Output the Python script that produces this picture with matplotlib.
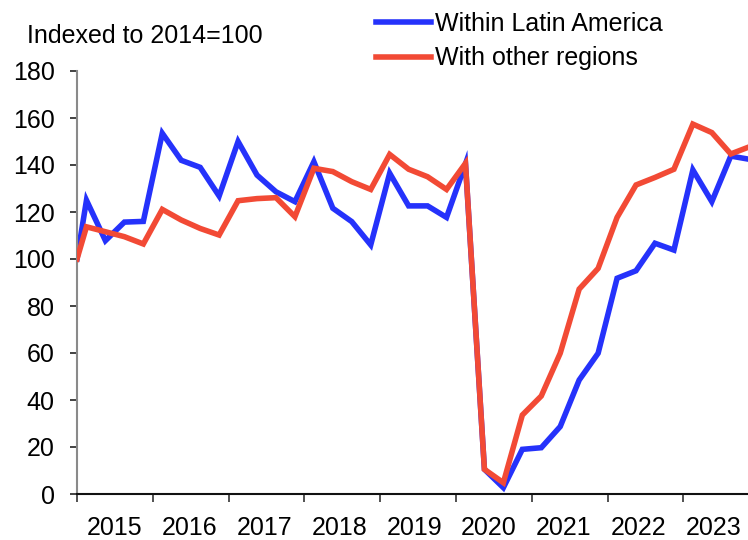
import matplotlib
matplotlib.use("Agg")
import matplotlib.pyplot as plt

plt.rcParams['font.family'] = ['Liberation Sans', 'DejaVu Sans']

# Data (index, 2014=100); first value is the base point, then quarterly 2015Q1..2023Q4
periods = ["base"] + [f"{y}Q{q}" for y in range(2015, 2024) for q in range(1, 5)]
within_latam = [100,
                125, 107.8, 115.7, 116, 153.5, 142, 139, 126.8, 150, 135.7, 128.6, 124.4,
                141.4, 121.6, 115.9, 106, 136.5, 122.6, 122.6, 117.7,
                140.5, 10.5, 2.7, 19, 19.7, 28.7, 48.5, 59.9, 91.8, 95, 106.7, 103.8,
                137.9, 124.4, 143.8, 142.4]
other_regions = [100,
                 113.7, 111.6, 109.5, 106.4, 121.1, 116.6, 113, 110.2, 124.8, 125.7, 126.1, 118,
                 138.6, 137.2, 132.9, 129.6, 144.5, 138.2, 135, 129.6,
                 140.7, 10.5, 4.8, 33.6, 41.7, 59.9, 87.2, 96, 117.7, 131.5, 134.7, 138.2,
                 157.4, 153.8, 144.7, 147.8]
years = list(range(2015, 2024))
yticks = [0, 20, 40, 60, 80, 100, 120, 140, 160, 180]
labels = ["Within Latin America", "With other regions"]

# x positions: base at start of 2015, quarters at mid-quarter
xpos = [2015.0] + [int(p[:4]) + (int(p[-1]) - 1) * 0.25 + 0.125 for p in periods[1:]]

BLUE = '#2532FB'
RED = '#F24A35'
FS = 18

fig = plt.figure(figsize=(7.48, 5.40), dpi=100)
ax = fig.add_axes([77 / 748, 46 / 540, 1 - 77 / 748, (494 - 71) / 540])

ax.plot(xpos, within_latam, color=BLUE, lw=4.0, label=labels[0], solid_joinstyle='miter', zorder=2)
ax.plot(xpos, other_regions, color=RED, lw=4.0, label=labels[1], solid_joinstyle='miter', zorder=3)

ax.set_yticks(yticks)
ax.set_yticklabels([str(v) for v in yticks], fontsize=FS)

ax.set_xticks(years)
ax.set_xticklabels([])
label_pos = [2015 + 0.497 + 0.988 * (y - 2015) for y in years]
ax.set_xticks(label_pos, minor=True)
ax.set_xticklabels([str(y) for y in years], minor=True, fontsize=FS)
ax.tick_params(axis='x', which='major', length=5.5, width=1.2, color='#333333', direction='out')
ax.tick_params(axis='x', which='minor', length=0, pad=16)
ax.tick_params(axis='y', length=5, width=1.2, color='#222222', pad=11)

ax.set_ylim(0, 180)
ax.set_xlim(2015.0, 2015.0 + 671 / 75.8)

for s in ['top', 'right']:
    ax.spines[s].set_visible(False)
ax.spines['left'].set_color('#8a8a8a')
ax.spines['left'].set_linewidth(1.5)
ax.spines['bottom'].set_color('#111111')
ax.spines['bottom'].set_linewidth(1.5)

fig.text(27 / 748, 1 - 36 / 540, "Indexed to 2014=100", fontsize=FS, va='center', ha='left')

fig.legend(loc='upper left', bbox_to_anchor=(376 / 748, 1 - 12 / 540), frameon=False,
           fontsize=FS, handlelength=2.2, handletextpad=0.17, labelspacing=0.42,
           borderpad=0, borderaxespad=0)

fig.savefig("out.png", dpi=100)
